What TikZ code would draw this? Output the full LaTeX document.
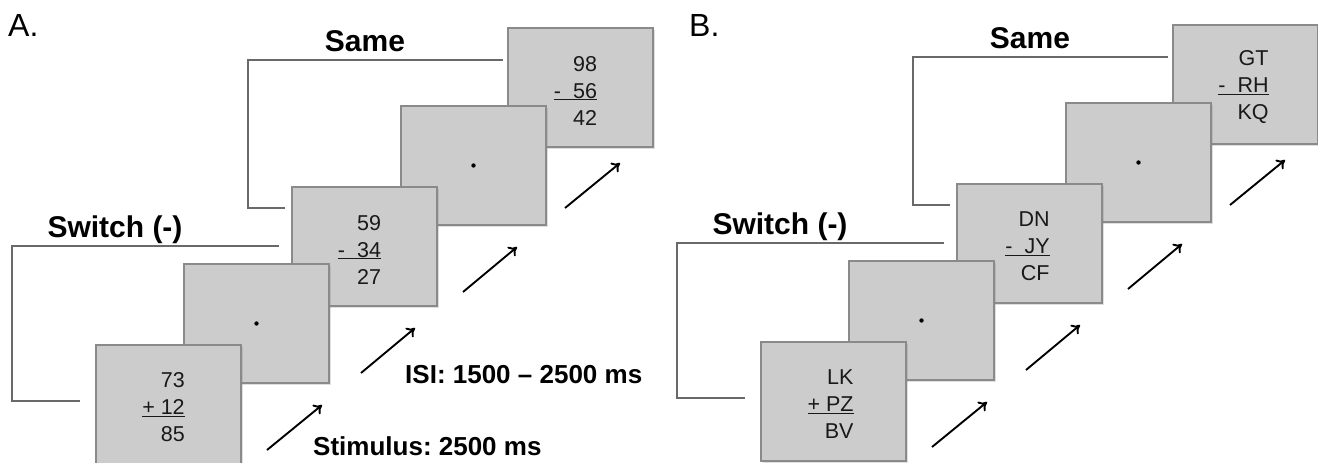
\documentclass[tikz,border=0pt]{standalone}
\usepackage{fontspec}
\setmainfont{Liberation Sans}
\usepackage{tikz}
\usetikzlibrary{arrows.meta,shadows,positioning}
\frenchspacing
\definecolor{cardfill}{RGB}{204,204,204}
\definecolor{cardedge}{RGB}{138,138,138}
\definecolor{bracketgray}{RGB}{105,105,105}
\definecolor{textdark}{RGB}{25,25,25}

\tikzset{
    card/.style={draw=cardedge, fill=cardfill, line width=1.4pt,
        minimum width=145pt, minimum height=119pt, inner sep=0pt,
        drop shadow={shadow xshift=1.5pt, shadow yshift=-1.5pt, opacity=0.25}},
    cardtext/.style={inner sep=0pt, align=right, text=textdark,
        font=\fontsize{21.5}{27}\selectfont},
    bracket/.style={draw=bracketgray, line width=1.4pt},
    cuelabel/.style={inner sep=0pt, font=\fontsize{30}{36}\selectfont\bfseries},
    timelabel/.style={inner sep=0pt, font=\fontsize{26}{31}\selectfont\bfseries},
    panellabel/.style={inner sep=0pt, font=\fontsize{32}{38}\selectfont},
    timearrow/.style={line width=1.9pt, -{To[length=8pt, width=12pt]}},
}

\begin{document}
\begin{tikzpicture}[x=1pt, y=-1pt]
    \useasboundingbox (0,0) rectangle (1318,463);
    \node[panellabel, anchor=base west] (labelA) at (8,36) {A.};
    \node[panellabel, anchor=base west] (labelB) at (689,36) {B.};

    % panel A: numbers
    \draw[bracket] (285,208) -- (248,208) -- (248,60) -- (503,60);
    \draw[bracket] (80,401) -- (12,401) -- (12,246) -- (279,246);
    \node[cuelabel, anchor=base] (sameA) at (365,51) {Same};
    \node[cuelabel, anchor=base] (switchA) at (115,237) {Switch (-)};

    \node[card] (a4) at (580.5,87.5) {};
    \node[cardtext] (a4t) at ([xshift=-5pt, yshift=-3pt]a4.center) {98\\\underline{-~~56}\\42};
    \node[card] (a3) at (473.5,165.5) {};
    \fill (a3) circle (2.2pt);
    \node[card] (a2) at (364.5,246.5) {};
    \node[cardtext] (a2t) at ([xshift=-5pt, yshift=-3pt]a2.center) {59\\\underline{-~~34}\\27};
    \node[card] (a1) at (256.5,323.5) {};
    \fill (a1) circle (2.2pt);
    \node[card] (a0) at (168.5,404.5) {};
    \node[cardtext] (a0t) at ([xshift=-5pt, yshift=-3pt]a0.center) {73\\\underline{+ 12}\\85};

    \draw[timearrow] (267,450) -- (322,405);
    \draw[timearrow] (361,373) -- (415,328);
    \draw[timearrow] (463,292) -- (517,247);
    \draw[timearrow] (565,208) -- (620,163);
    \node[timelabel, anchor=base west] (isiA) at (405,383) {ISI: 1500 – 2500 ms};
    \node[timelabel, anchor=base west] (stimA) at (313,455) {Stimulus: 2500 ms};

    % panel B: letters
    \begin{scope}[shift={(665,-3)}]
        \draw[bracket] (285,208) -- (248,208) -- (248,60) -- (503,60);
        \draw[bracket] (80,401) -- (12,401) -- (12,246) -- (279,246);
        \node[cuelabel, anchor=base] (sameB) at (365,51) {Same};
        \node[cuelabel, anchor=base] (switchB) at (115,237) {Switch (-)};

        \node[card] (b4) at (580.5,87.5) {};
        \node[cardtext] (b4t) at ([xshift=-2pt, yshift=-3pt]b4.center) {GT\\\underline{-~~RH}\\KQ};
        \node[card] (b3) at (473.5,165.5) {};
        \fill (b3) circle (2.2pt);
        \node[card] (b2) at (364.5,246.5) {};
        \node[cardtext] (b2t) at ([xshift=-2pt, yshift=-3pt]b2.center) {DN\\\underline{-~~JY}\\CF};
        \node[card] (b1) at (256.5,323.5) {};
        \fill (b1) circle (2.2pt);
        \node[card] (b0) at (168.5,404.5) {};
        \node[cardtext] (b0t) at ([xshift=-3pt, yshift=-3pt]b0.center) {LK\\\underline{+ PZ}\\BV};

        \draw[timearrow] (267,450) -- (322,405);
        \draw[timearrow] (361,373) -- (415,328);
        \draw[timearrow] (463,292) -- (517,247);
        \draw[timearrow] (565,208) -- (620,163);
    \end{scope}
\end{tikzpicture}
\end{document}
